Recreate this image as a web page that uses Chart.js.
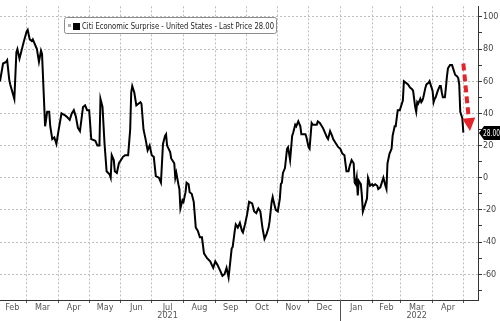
<!DOCTYPE html>
<html>
<head>
<meta charset="utf-8">
<script src="https://cdn.jsdelivr.net/npm/chart.js@4"></script>
<style>
  html, body { margin: 0; padding: 0; background: #fff; }
  #wrap { position: relative; width: 500px; height: 321px; }
</style>
</head>
<body>
<div id="wrap"><canvas id="chart" width="500" height="321"></canvas></div>
<script>
const SERIES_NAME = "Citi Economic Surprise - United States";

// x = days since 2021-02-01
const DAYS = [
  2, 5, 8, 9, 11, 12, 16, 18, 19, 21,
  25, 28, 29, 31, 33, 34, 38, 40, 42, 43,
  46, 48, 50, 51, 53, 55, 57, 59, 62, 65,
  67, 70, 72, 74, 76, 78, 80, 83, 85, 87,
  89, 91, 95, 97, 99, 100, 102, 104, 106, 109,
  110, 111, 113, 114, 116, 118, 121, 122, 124, 127,
  129, 130, 131, 133, 135, 137, 139, 140, 142, 144,
  146, 148, 150, 152, 154, 157, 159, 161, 163, 164,
  165, 168, 169, 172, 173, 174, 176, 177, 178, 180,
  181, 183, 184, 186, 187, 189, 191, 193, 195, 197,
  199, 201, 204, 207, 210, 212, 214, 217, 219, 221,
  223, 225, 226, 228, 229, 231, 232, 234, 236, 238,
  239, 241, 243, 245, 248, 250, 252, 254, 256, 258,
  260, 262, 264, 265, 267, 268, 269, 271, 273, 275,
  276, 277, 278, 280, 282, 283, 285, 287, 288, 290,
  291, 293, 295, 296, 300, 301, 303, 304, 306, 307,
  309, 311, 312, 314, 316, 317, 319, 321, 322, 324,
  326, 327, 330, 332, 334, 336, 338, 339, 340, 342,
  343, 345, 347, 348, 349, 350, 351, 352, 353, 354,
  355, 356, 357, 358, 360, 361, 362, 363, 365, 366,
  368, 370, 371, 373, 374, 376, 378, 379, 380, 381,
  382, 384, 385, 387, 388, 390, 392, 393, 395, 396,
  398, 400, 402, 404, 405, 407, 408, 409, 410, 412,
  413, 414, 415, 417, 418, 420, 421, 422, 424, 425,
  426, 427, 429, 431, 432, 433, 434, 436, 437, 438,
  439, 441, 443, 444, 446, 448, 449, 450, 451, 452,
  453, 454
];

const CESI = [
  60, 71, 72, 73, 61, 58, 49, 78, 80, 74,
  84, 91, 92, 86, 85, 86, 80, 72, 79, 77,
  32, 41, 41, 32, 24, 25, 21, 29, 40, 39,
  38, 36, 40, 42, 38, 31, 29, 44, 45, 42,
  42, 24, 23, 20, 20, 49, 44, 21, 4, 2,
  0, 14, 11, 4, 3, 9, 12, 13, 14, 14,
  30, 53, 57, 53, 45, 46, 47, 46, 30, 24,
  17, 20, 14, 13, 1, 0, -3, 21, 26, 27,
  20, 16, 12, 9, 0, 3, -4, -7, -19, -14,
  -15, -9, -3, -4, -9, -10, -15, -31, -33, -37,
  -37, -47, -50, -52, -56, -52, -54, -58, -61, -60,
  -56, -62, -56, -44, -43, -33, -29, -31, -28, -33,
  -34, -29, -23, -15, -16, -21, -22, -19, -21, -31,
  -38, -35, -31, -27, -15, -12, -15, -20, -21, -13,
  -4, -3, 3, 6, 18, 19, 11, 26, 28, 33,
  32, 35, 32, 27, 27, 25, 19, 18, 34, 33,
  33, 33, 35, 34, 32, 31, 28, 25, 24, 29,
  26, 24, 21, 19, 18, 15, 14, 9, 4, 4,
  7, 11, 9, -3, -4, 0, -11, -2, -3, -4,
  -11, -21, -19, -17, -13, 0, -2, -5, -4, -5,
  -4, -5, -7, -6, -4, 0, -5, -7, 9, 12,
  15, 18, 26, 32, 32, 42, 42, 44, 48, 60,
  59, 58, 56, 55, 54, 44, 41, 47, 46, 49,
  47, 48, 50, 56, 58, 59, 60, 58, 54, 47,
  49, 50, 54, 57, 57, 53, 50, 50, 56, 63,
  68, 70, 70, 68, 64, 63, 62, 58, 41, 39,
  37, 28
];

// month boundaries (days since 2021-02-01), Mar 2021 .. May 2022
const MONTH_STARTS = [28, 59, 89, 120, 150, 181, 212, 242, 273, 303, 334, 365, 393, 424, 454];
// label centres: Feb 2021 .. Apr 2022
const MONTH_MIDS = [14, 43.5, 74, 104.5, 135, 165.5, 196.5, 227, 257.5, 288, 318.5, 349.5, 379, 408.5, 439];
const MONTH_LABELS = ["Feb", "Mar", "Apr", "May", "Jun", "Jul", "Aug", "Sep", "Oct", "Nov", "Dec", "Jan", "Feb", "Mar", "Apr"];
const YEAR_LABELS = ["", "", "", "", "", "2021", "", "", "", "", "", "", "", "2022", ""];
const YEAR_START = 334; // 2022-01-01

const Y_TICKS = [-70, -60, -50, -40, -30, -20, -10, 0, 10, 20, 30, 40, 50, 60, 70, 80, 90, 100];

// red dashed arrow: [day, value]
const ARROW_FROM = [454, 71];
const ARROW_TO = [460.5, 29];

const LAST = CESI[CESI.length - 1];

const FONT = "'Liberation Sans Narrow', 'DejaVu Sans Condensed', 'Liberation Sans', sans-serif";
const GRID = "#bdbdbd";
const AXIS = "#333";

const xTicks = [];
MONTH_STARTS.forEach((d) => xTicks.push({ value: d, kind: "edge", label: "" }));
MONTH_MIDS.forEach((d, i) => xTicks.push({
  value: d, kind: "mid",
  label: YEAR_LABELS[i] ? [MONTH_LABELS[i], YEAR_LABELS[i]] : MONTH_LABELS[i],
}));
xTicks.sort((a, b) => a.value - b.value);

const decor = {
  id: "decor",
  afterDraw(chart) {
    const { ctx, chartArea, scales: { x, y } } = chart;
    ctx.save();

    // longer tick at the year change
    const xy = Math.round(x.getPixelForValue(YEAR_START)) + 0.5;
    ctx.strokeStyle = "#555";
    ctx.lineWidth = 1;
    ctx.beginPath();
    ctx.moveTo(xy, chartArea.bottom);
    ctx.lineTo(xy, 321);
    ctx.stroke();

    // legend box
    ctx.fillStyle = "#fff";
    ctx.strokeStyle = "#8c8c8c";
    ctx.beginPath();
    ctx.roundRect(64.5, 17.5, 212, 16, 2);
    ctx.fill();
    ctx.stroke();
    ctx.fillStyle = "#b0b0b0";
    ctx.fillRect(68, 24, 3, 3);
    ctx.fillStyle = "#000";
    ctx.fillRect(73, 23, 7, 7);
    ctx.fillStyle = "#222";
    ctx.font = "9px " + FONT;
    ctx.textBaseline = "middle";
    ctx.textAlign = "left";
    ctx.fillText(`${SERIES_NAME} - Last Price ${LAST.toFixed(2)}`, 82, 26.5, 192);

    // red dashed arrow
    const x1 = x.getPixelForValue(ARROW_FROM[0]), y1 = y.getPixelForValue(ARROW_FROM[1]);
    const x2 = x.getPixelForValue(ARROW_TO[0]), y2 = y.getPixelForValue(ARROW_TO[1]);
    const len = Math.hypot(x2 - x1, y2 - y1);
    const ux = (x2 - x1) / len, uy = (y2 - y1) / len;
    const headL = 13, headW = 6.5;
    const bx = x2 - ux * headL, by = y2 - uy * headL;
    ctx.strokeStyle = "#e3242b";
    ctx.fillStyle = "#e3242b";
    ctx.lineWidth = 4;
    ctx.setLineDash([7, 4]);
    ctx.beginPath();
    ctx.moveTo(x1, y1);
    ctx.lineTo(bx, by);
    ctx.stroke();
    ctx.setLineDash([]);
    ctx.beginPath();
    ctx.moveTo(x2, y2);
    ctx.lineTo(bx - uy * headW, by + ux * headW);
    ctx.lineTo(bx + uy * headW, by - ux * headW);
    ctx.closePath();
    ctx.fill();

    // last price tag
    const ty = Math.round(y.getPixelForValue(LAST));
    const tx = chartArea.right + 1;
    ctx.fillStyle = "#000";
    ctx.beginPath();
    ctx.moveTo(tx, ty);
    ctx.lineTo(tx + 5, ty - 7);
    ctx.lineTo(500, ty - 7);
    ctx.lineTo(500, ty + 7);
    ctx.lineTo(tx + 5, ty + 7);
    ctx.closePath();
    ctx.fill();
    ctx.fillStyle = "#fff";
    ctx.font = "9px " + FONT;
    ctx.fillText(LAST.toFixed(2), tx + 4, ty + 0.5, 17);

    ctx.restore();
  },
};

new Chart(document.getElementById("chart"), {
  type: "line",
  data: {
    datasets: [{
      label: SERIES_NAME,
      data: DAYS.map((d, i) => ({ x: d, y: CESI[i] })),
      borderColor: "#000",
      borderWidth: 2,
      pointRadius: 0,
      tension: 0,
      fill: false,
    }],
  },
  options: {
    responsive: false,
    animation: false,
    layout: { padding: 0 },
    plugins: { legend: { display: false }, tooltip: { enabled: false } },
    scales: {
      x: {
        type: "linear",
        min: 2,
        max: 468.3,
        afterBuildTicks: (scale) => { scale.ticks = xTicks.map((t) => ({ ...t })); },
        afterFit: (scale) => { scale.height = 21; },
        ticks: {
          autoSkip: false,
          maxRotation: 0,
          padding: 0,
          color: "#555",
          font: { family: FONT, size: 9, lineHeight: 0.95 },
          callback: (v, i, ticks) => ticks[i].label,
        },
        grid: {
          color: (c) => (c.tick && c.tick.kind === "edge" ? GRID : "transparent"),
          tickColor: (c) => (c.tick && c.tick.kind === "edge" ? "#555" : "transparent"),
          tickLength: 3,
        },
        border: { color: AXIS, width: 1, dash: [2, 2] },
      },
      y: {
        position: "right",
        min: -76,
        max: 106.5,
        afterBuildTicks: (scale) => { scale.ticks = Y_TICKS.map((v) => ({ value: v })); },
        afterFit: (scale) => { scale.width = 22; },
        ticks: {
          padding: 1,
          color: "#444",
          font: { family: FONT, size: 9 },
          callback: (v) => (v % 20 === 0 ? String(v) : ""),
        },
        grid: {
          color: (c) => (c.tick && c.tick.value % 20 === 0 ? GRID : "transparent"),
          tickColor: AXIS,
          tickLength: 4,
        },
        border: { color: AXIS, width: 1, dash: [2, 2] },
      },
    },
  },
  plugins: [decor],
});
</script>
</body>
</html>
